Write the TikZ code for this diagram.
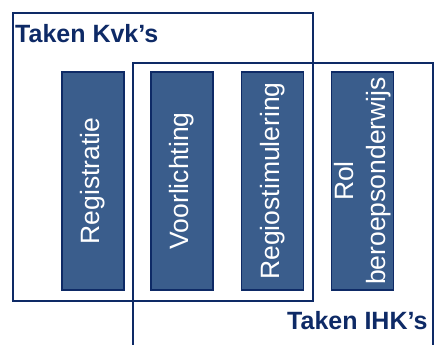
\documentclass[tikz,border=0pt]{standalone}
\usepackage{fontspec}
\setmainfont{Liberation Sans}
\definecolor{navy}{HTML}{0E2A66}
\definecolor{taakblauw}{HTML}{3A5D8C}
\tikzset{
    frame/.style={draw=navy,line width=1.8pt,inner sep=0pt,anchor=north west},
    taak/.style={draw=navy,line width=1.3pt,fill=taakblauw,text=white,rotate=90,
        minimum width=218pt,minimum height=62pt,inner sep=0pt,align=center,
        font=\fontsize{26.5}{32}\selectfont},
    titel/.style={text=navy,anchor=base west,inner sep=0pt,
        font=\fontsize{25}{30}\selectfont\bfseries}
}
\begin{document}
\begin{tikzpicture}[x=1pt,y=-1pt]
    \useasboundingbox (0,0) rectangle (434,345);
    \node[frame,minimum width=300pt,minimum height=288pt] (kvk) at (12,12) {};
    \node[frame,minimum width=300pt,minimum height=300pt] (ihk) at (132,62) {};
    \node[taak] (registratie) at (93,181) {Registratie};
    \node[taak] (voorlichting) at (182,181) {Voorlichting};
    \node[taak] (regio) at (272.5,181) {Regiostimulering};
    \node[taak] (rol) at (362.5,181) {Rol\\beroepsonderwijs};
    \node[titel] (kvktitel) at (15,43) {Taken Kvk's};
    \node[titel] (ihktitel) at (287,329) {Taken IHK's};
\end{tikzpicture}
\end{document}
